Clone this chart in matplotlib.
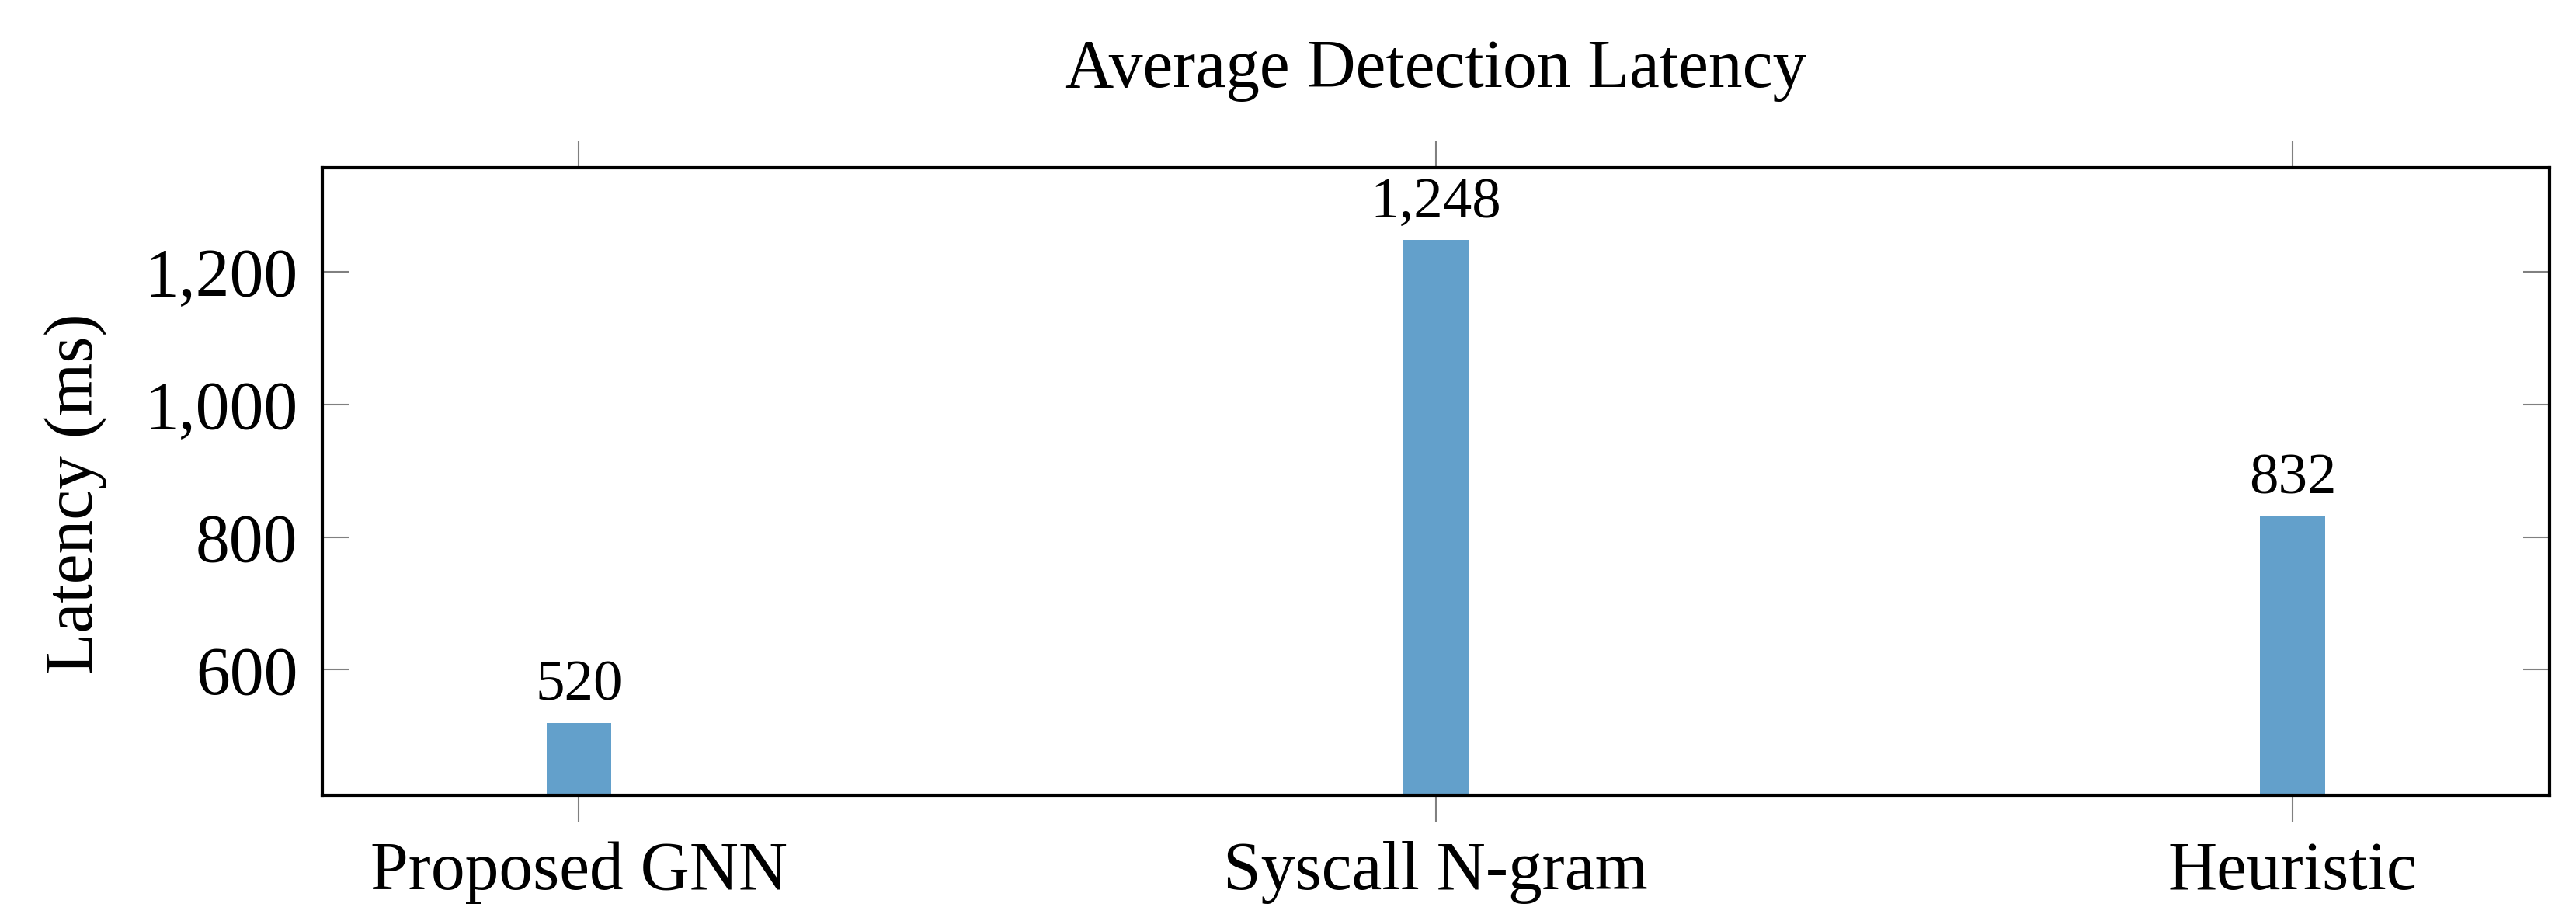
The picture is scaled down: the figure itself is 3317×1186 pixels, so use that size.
import matplotlib
matplotlib.use("Agg")
import matplotlib.pyplot as plt
from matplotlib.ticker import FuncFormatter, FixedLocator

categories = ["Proposed GNN", "Syscall N-gram", "Heuristic"]
latency_ms = [520, 1248, 832]
yticks = [600, 800, 1000, 1200]

plt.rcParams['font.family'] = ['Liberation Serif', 'DejaVu Serif']

W, H, DPI = 3317, 1186, 300
fig = plt.figure(figsize=(W / DPI, H / DPI), dpi=DPI)
ax = fig.add_axes([414.5 / W, 1 - 1024 / H, (3283 - 414.5) / W, (1024 - 216) / H])

x = list(range(len(categories)))
bars = ax.bar(x, latency_ms, width=0.076, color='#63A0CB', zorder=2)

lo, hi = min(latency_ms), max(latency_ms)
rng = hi - lo
ax.set_ylim(lo - 0.15 * rng, hi + 0.15 * rng)
ax.set_xlim(-0.3, 2.3)

FS = 21
ax.set_xticks(x)
ax.set_xticklabels(categories, fontsize=FS)
ax.yaxis.set_major_locator(FixedLocator(yticks))
ax.yaxis.set_major_formatter(FuncFormatter(lambda v, p: f"{v:,.0f}"))
ax.tick_params(axis='y', labelsize=FS)

ax.tick_params(axis='x', which='both', direction='out', top=True, bottom=True,
               length=8.2, width=0.5, color='#808080', pad=6)
ax.tick_params(axis='y', which='both', direction='in', left=True, right=True,
               length=8.2, width=0.5, color='#808080', pad=7.5)

for s in ax.spines.values():
    s.set_linewidth(1.0)
    s.set_color('black')
    s.set_zorder(3)

ax.bar_label(bars, labels=[f"{v:,.0f}" for v in latency_ms], padding=3.2, fontsize=18)

ax.set_ylabel("Latency (ms)", fontsize=FS)
ax.yaxis.set_label_coords(-0.0965, 0.481)
ax.set_title("Average Detection Latency", fontsize=FS, y=(1024 - 112) / (1024 - 216), pad=0)

fig.savefig("out.png", dpi=DPI)
